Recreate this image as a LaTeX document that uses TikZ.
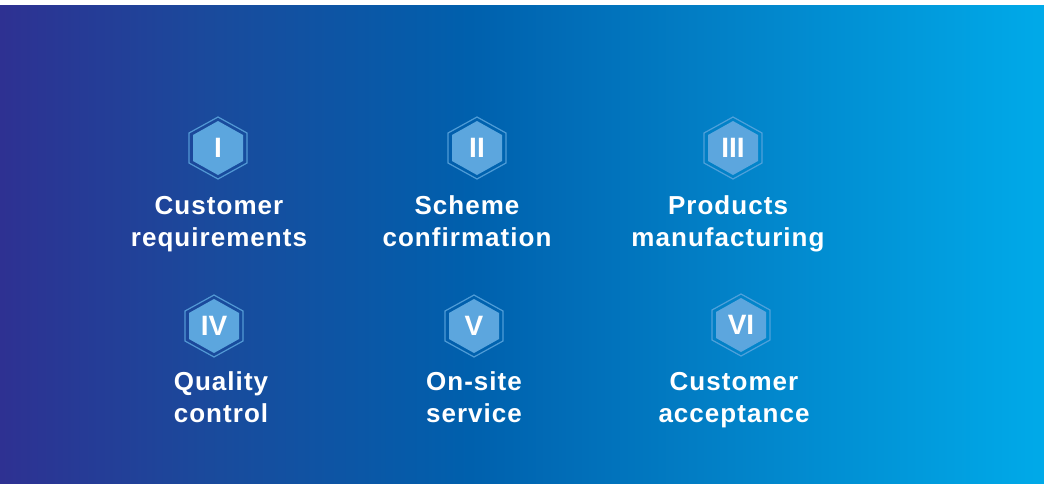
\documentclass[tikz,border=0pt]{standalone}
\usepackage{fontspec}
\setmainfont{Liberation Sans}
\newfontfamily\etifont[LetterSpace=4]{Liberation Sans}
\usetikzlibrary{positioning}

\definecolor{bgA}{HTML}{2E3192}
\definecolor{bgB}{HTML}{1A4A9C}
\definecolor{bgC}{HTML}{0060AD}
\definecolor{bgD}{HTML}{0282C8}
\definecolor{bgE}{HTML}{00AAE9}
\definecolor{hexfuell}{HTML}{5CA6DE}

% Farbverlauf: nur 25bp bis 75bp liegen im Rechteck
\pgfdeclarehorizontalshading{band}{100bp}{
	color(0bp)=(bgA); color(25bp)=(bgA); color(35bp)=(bgB);
	color(47.5bp)=(bgC); color(60bp)=(bgD); color(75bp)=(bgE);
	color(100bp)=(bgE)}

\begin{document}
\begin{tikzpicture}[
		x=1pt, y=-1pt,
		hexline/.style={
			draw=hexfuell,
			draw opacity=0.85,
			line width=1.2pt
		},
		hexfill/.style={
			fill=hexfuell
		},
		hexa/.pic={
			\draw[hexline] (0,-31) -- (29,-15) -- (29,15) -- (0,31)
				-- (-29,15) -- (-29,-15) -- cycle;
			\fill[hexfill] (0,-27) -- (25,-13) -- (25,13) -- (0,27)
				-- (-25,13) -- (-25,-13) -- cycle;
		},
		num/.style={
			text=white,
			font=\fontsize{28}{30}\selectfont\bfseries,
			inner sep=0pt
		},
		etikett/.style={
			text=white,
			font=\etifont\fontsize{26}{32}\selectfont\bfseries,
			align=center,
			inner sep=0pt,
			anchor=base
		}
		]
		
		% Hintergrund
		\useasboundingbox (0,0) rectangle (1044,483);
		\fill[white] (0,0) rectangle (1044,483);
		\shade[shading=band] (0,5) rectangle (1044,483);
		
		% Obere Reihe
		\pic at (218,148) {hexa};
		\node[num] (n1) at (218,148) {I};
		\node[etikett] (t1) at (219,246) {Customer\\requirements};
		
		\pic at (477,148) {hexa};
		\node[num] (n2) at (477,148) {II};
		\node[etikett] (t2) at (467,246) {Scheme\\confirmation};
		
		\pic at (733,148) {hexa};
		\node[num] (n3) at (733,148) {III};
		\node[etikett] (t3) at (728,246) {Products\\manufacturing};
		
		% Untere Reihe
		\pic at (214,326) {hexa};
		\node[num] (n4) at (214,326) {IV};
		\node[etikett] (t4) at (221,422) {Quality\\control};
		
		\pic at (474,326) {hexa};
		\node[num] (n5) at (474,326) {V};
		\node[etikett] (t5) at (474,422) {On-site\\service};
		
		\pic at (741,325) {hexa};
		\node[num] (n6) at (741,325) {VI};
		\node[etikett] (t6) at (734,422) {Customer\\acceptance};
		
	\end{tikzpicture}
\end{document}
